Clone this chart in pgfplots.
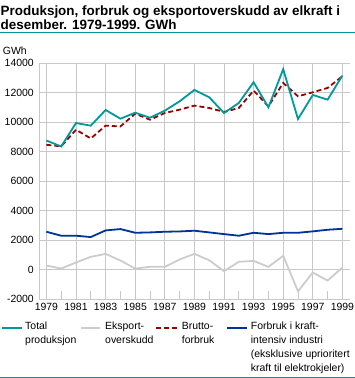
\documentclass[border=0pt]{standalone}
\usepackage{fontspec}
\setmainfont{Liberation Sans}
\usepackage{pgfplots}
\usepackage{pgfplotstable}
\pgfplotsset{compat=1.18}
\definecolor{tealc}{RGB}{0,153,153}
\definecolor{redc}{RGB}{153,0,0}
\definecolor{bluec}{RGB}{0,51,153}
\definecolor{grayc}{RGB}{204,204,204}
\definecolor{gridc}{RGB}{200,200,200}
\pgfplotstableread{
year total brutto kraft eksport
1979 8745 8455 2560 270
1980 8340 8350 2290 65
1981 9930 9475 2290 475
1982 9750 8885 2200 860
1983 10815 9750 2650 1060
1984 10225 9700 2740 610
1985 10630 10565 2490 65
1986 10290 10155 2515 180
1987 10770 10610 2560 180
1988 11400 10835 2580 680
1989 12175 11110 2630 1060
1990 11675 10950 2515 630
1991 10610 10680 2400 -115
1992 11290 10950 2290 520
1993 12695 12130 2490 585
1994 10995 11060 2400 180
1995 13580 12650 2490 925
1996 10200 11740 2490 -1475
1997 11835 12015 2585 -205
1998 11515 12310 2695 -750
1999 13150 13100 2760 135
}\datatable
\begin{document}
\begin{tikzpicture}
\useasboundingbox (0,0) rectangle (355bp,-378bp);
\node[anchor=base west, inner sep=0, font=\bfseries\fontsize{13.5}{15}\selectfont] at (0.5bp,-15.5bp) {Produksjon, forbruk og eksportoverskudd av elkraft i};
\node[anchor=base west, inner sep=0, font=\bfseries\fontsize{13.5}{15}\selectfont] at (0.5bp,-29.5bp) {desember. 1979-1999. GWh};
\draw[draw=tealc, line width=1.2bp] (0,-32.7bp) -- (355bp,-32.7bp);
\draw[draw=tealc, line width=1.2bp] (0,-377.3bp) -- (355bp,-377.3bp);
\node[anchor=base west, inner sep=0, font=\fontsize{10.5}{12}\selectfont] at (2.7bp,-54.3bp) {GWh};
% legend samples
\draw[draw=tealc, line width=2bp] (1.7bp,-328.3bp) -- (21.7bp,-328.3bp);
\draw[draw=grayc, line width=2bp] (81bp,-328.3bp) -- (100bp,-328.3bp);
\draw[draw=redc, line width=2bp, dash pattern=on 5bp off 3bp] (156bp,-328.3bp) -- (177bp,-328.3bp);
\draw[draw=bluec, line width=2bp] (226.7bp,-328.3bp) -- (246.7bp,-328.3bp);
% legend texts
\begin{scope}[every node/.style={anchor=base west, inner sep=0, text=black, font=\fontsize{10.5}{12}\selectfont}]
\node at (25bp,-329.3bp) {Total};
\node at (25bp,-343.3bp) {produksjon};
\node at (105bp,-329.3bp) {Eksport-};
\node at (105bp,-343.3bp) {overskudd};
\node at (181.7bp,-329.3bp) {Brutto-};
\node at (181.7bp,-343.3bp) {forbruk};
\node at (250.7bp,-329.3bp) {Forbruk i kraft-};
\node at (250.7bp,-343.3bp) {intensiv industri};
\node at (250.7bp,-357.3bp) {(eksklusive uprioritert};
\node at (250.7bp,-371.3bp) {kraft til elektrokjeler)};
\end{scope}
\begin{axis}[
  at={(39bp,-299bp)}, anchor=south west, scale only axis,
  width=310.8bp, height=236bp,
  xmin=1978.5, xmax=1999.5, ymin=-2000, ymax=14000,
  axis lines=left, axis line style={draw=gridc, line width=0.8bp, -},
  scaled y ticks=false, scaled x ticks=false,
  xtick={1979,1981,...,1999},
  xticklabels={1979,1981,1983,1985,1987,1989,1991,1993,1995,1997,1999},
  minor xtick={1980,1982,...,1998},
  xminorticks=true,
  ytick={-2000,0,2000,...,14000},
  yticklabels={-2000,0,2000,4000,6000,8000,10000,12000,14000},
  grid=major, major grid style={draw=gridc, line width=0.8bp},
  tick style={draw=gridc, line width=0.8bp},
  minor tick style={draw=gridc, line width=0.8bp},
  tick align=inside,
  major tick length=0pt, minor tick length=8bp,
  xtick pos=bottom, ytick pos=left,
  tick label style={font=\fontsize{10.5}{12}\selectfont},
  xticklabel style={inner sep=1bp, yshift=-2.5bp},
  yticklabel style={inner sep=1bp, xshift=-4bp},
  clip=false,
]
\addplot[grayc, line width=1.8bp] table[x=year, y=eksport] {\datatable};
\addplot[bluec, line width=1.8bp] table[x=year, y=kraft] {\datatable};
\addplot[redc, line width=1.8bp, dash pattern=on 5bp off 3bp] table[x=year, y=brutto] {\datatable};
\addplot[tealc, line width=1.8bp] table[x=year, y=total] {\datatable};
\end{axis}
\end{tikzpicture}
\end{document}
